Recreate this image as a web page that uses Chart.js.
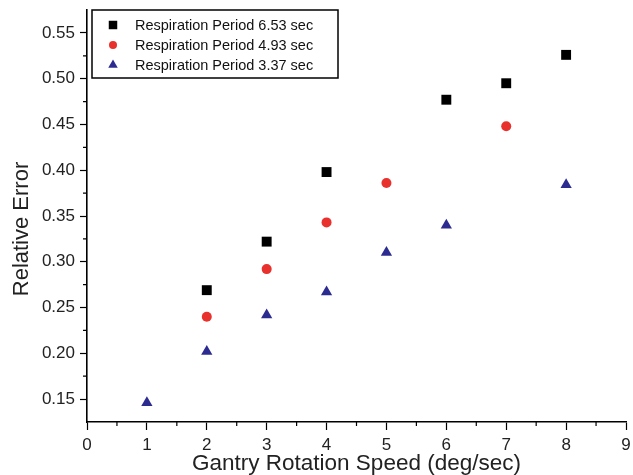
<!DOCTYPE html>
<html>
<head>
<meta charset="utf-8">
<script src="https://cdn.jsdelivr.net/npm/chart.js@4"></script>
<style>
    html, body { margin: 0; padding: 0; background: #fff; }
    #wrap { width: 633px; height: 475px; }
</style>
</head>
<body>
<div id="wrap"><canvas id="chart" width="633" height="475"></canvas></div>
<script>
// =====================================
// Data
// =====================================
const seriesLabels = [
    "Respiration Period 6.53 sec",
    "Respiration Period 4.93 sec",
    "Respiration Period 3.37 sec"
];

const speed653 = [2, 3, 4, 6, 7, 8];
const error653 = [0.269, 0.322, 0.398, 0.477, 0.495, 0.526];

const speed493 = [2, 3, 4, 5, 7];
const error493 = [0.240, 0.292, 0.343, 0.386, 0.448];

const speed337 = [1, 2, 3, 4, 5, 6, 8];
const error337 = [0.146, 0.202, 0.242, 0.267, 0.310, 0.340, 0.384];

const xTicks = [0, 1, 2, 3, 4, 5, 6, 7, 8, 9];
const yTicks = [0.15, 0.20, 0.25, 0.30, 0.35, 0.40, 0.45, 0.50, 0.55];
const xMinorTicks = [0.5, 1.5, 2.5, 3.5, 4.5, 5.5, 6.5, 7.5, 8.5];
const yMinorTicks = [0.175, 0.225, 0.275, 0.325, 0.375, 0.425, 0.475, 0.525];

const yTitle = "Relative Error";
const FONT = "'Liberation Sans', Arial, sans-serif";

function toPoints(xs, ys) {
    return xs.map((x, i) => ({ x: x, y: ys[i] }));
}

// =====================================
// Minor ticks, y title, framed legend
// =====================================
const minorTicksPlugin = {
    id: "minorTicks",
    afterDraw(chart) {
        const ctx = chart.ctx;
        const xs = chart.scales.x;
        const ys = chart.scales.y;
        ctx.save();
        ctx.strokeStyle = "#000";
        ctx.lineWidth = 1.2;
        ctx.beginPath();
        xMinorTicks.forEach(v => {
            const px = xs.getPixelForValue(v);
            ctx.moveTo(px, xs.top);
            ctx.lineTo(px, xs.top + 4);
        });
        yMinorTicks.forEach(v => {
            const py = ys.getPixelForValue(v);
            ctx.moveTo(ys.right, py);
            ctx.lineTo(ys.right - 4, py);
        });
        ctx.stroke();

        // y title sits a little below the axis centre in the original
        ctx.translate(22, chart.chartArea.top + 219);
        ctx.rotate(-Math.PI / 2);
        ctx.font = "22px " + FONT;
        ctx.fillStyle = "#222";
        ctx.textAlign = "center";
        ctx.textBaseline = "middle";
        ctx.fillText(yTitle, 0, 0);
        ctx.restore();
    }
};

const boxLegendPlugin = {
    id: "boxLegend",
    afterDraw(chart) {
        const ctx = chart.ctx;
        const left = chart.chartArea.left + 5;
        const top = chart.chartArea.top;
        ctx.save();
        ctx.fillStyle = "#fff";
        ctx.fillRect(left, top, 246, 68);
        ctx.strokeStyle = "#000";
        ctx.lineWidth = 1.5;
        ctx.strokeRect(left, top, 246, 68);
        ctx.font = "14.5px " + FONT;
        ctx.textBaseline = "middle";
        chart.data.datasets.forEach((ds, i) => {
            const cy = top + 15 + i * 20;
            ctx.fillStyle = ds.backgroundColor;
            Chart.helpers.drawPoint(ctx, {
                pointStyle: ds.pointStyle,
                radius: ds.pointRadius - 1,
                rotation: 0,
                borderWidth: 0
            }, left + 21, cy);
            ctx.fillStyle = "#111";
            ctx.fillText(ds.label, left + 43, cy + 1);
        });
        ctx.restore();
    }
};

// =====================================
// Chart
// =====================================
const ctx = document.getElementById("chart").getContext("2d");
new Chart(ctx, {
    type: "scatter",
    data: {
        datasets: [
            {
                label: seriesLabels[0],
                data: toPoints(speed653, error653),
                pointStyle: "rect",
                pointRadius: 7,
                backgroundColor: "#000000",
                borderWidth: 0
            },
            {
                label: seriesLabels[1],
                data: toPoints(speed493, error493),
                pointStyle: "circle",
                pointRadius: 5,
                backgroundColor: "#e8302c",
                borderWidth: 0
            },
            {
                label: seriesLabels[2],
                data: toPoints(speed337, error337),
                pointStyle: "triangle",
                pointRadius: 6.5,
                backgroundColor: "#2c2c90",
                borderWidth: 0
            }
        ]
    },
    options: {
        responsive: false,
        animation: false,
        events: [],
        layout: { padding: { left: 0, right: 7, top: 10, bottom: 0 } },
        plugins: {
            legend: { display: false },
            tooltip: { enabled: false }
        },
        scales: {
            x: {
                type: "linear",
                min: 0,
                max: 9,
                afterBuildTicks: s => { s.ticks = xTicks.map(v => ({ value: v })); },
                afterFit: s => { s.height = 53; s.paddingLeft = 0; s.paddingRight = 0; },
                grid: { drawOnChartArea: false, drawTicks: true, tickLength: 8, tickColor: "#000", tickWidth: 1.2 },
                border: { display: true, color: "#000", width: 1.6 },
                ticks: { color: "#222", padding: 5, font: { family: FONT, size: 17 } },
                title: {
                    display: true,
                    text: "Gantry Rotation Speed (deg/sec)",
                    color: "#222",
                    font: { family: FONT, size: 22.5, lineHeight: 1 },
                    padding: { top: 0, bottom: 0 }
                }
            },
            y: {
                type: "linear",
                min: 0.125,
                max: 0.575,
                afterBuildTicks: s => { s.ticks = yTicks.map(v => ({ value: v })); },
                afterFit: s => { s.width = 87; s.paddingTop = 0; s.paddingBottom = 0; },
                grid: { drawOnChartArea: false, drawTicks: true, tickLength: 7, tickColor: "#000", tickWidth: 1.2 },
                border: { display: true, color: "#000", width: 1.6 },
                ticks: {
                    color: "#222",
                    padding: 5,
                    font: { family: FONT, size: 17 },
                    callback: v => v.toFixed(2)
                },
                title: { display: false }
            }
        }
    },
    plugins: [minorTicksPlugin, boxLegendPlugin]
});
</script>
</body>
</html>
